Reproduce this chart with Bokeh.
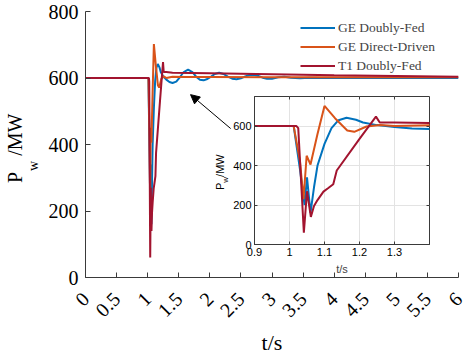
import math
from bokeh.plotting import figure
from bokeh.models import (Range1d, FixedTicker, Legend, LegendItem, Arrow,
                          NormalHead, LinearAxis, Div)
from bokeh.layouts import column
from bokeh.embed import file_html
from bokeh.resources import INLINE

# ---------------- data ----------------
series_names = ["GE Doubly-Fed", "GE Direct-Driven", "T1 Doubly-Fed"]

t_blue = [0, 1.012, 1.03, 1.043, 1.05, 1.06, 1.07, 1.08, 1.1, 1.12, 1.14, 1.163, 1.19,
          1.21, 1.25, 1.3, 1.35, 1.4, 1.46, 1.52, 1.58, 1.65, 1.72, 1.78, 1.84, 1.9,
          1.96, 2.02, 2.08, 2.15, 2.22, 2.29, 2.36, 2.43, 2.5, 2.57, 2.64, 2.71, 2.78,
          2.85, 2.92, 3.0, 3.1, 3.2, 3.3, 3.45, 3.6, 3.8, 4.0, 5.0, 6.0]
p_blue = [600, 600, 380, 200, 340, 160, 290, 400, 510, 590, 630, 642, 632,
          618, 605, 595, 588, 585, 589, 603, 618, 625, 618, 604, 595, 593,
          597, 604, 612, 616, 612, 604, 598, 596, 599, 605, 609, 610, 606,
          601, 598, 598, 602, 604, 601, 599, 601, 600, 600, 600, 600]

t_orange = [0, 1.012, 1.03, 1.04, 1.049, 1.06, 1.08, 1.1, 1.13, 1.165, 1.185, 1.22,
            1.26, 1.3, 1.4, 1.6, 2.0, 3.0, 6.0]
p_orange = [600, 600, 420, 230, 450, 405, 560, 702, 640, 578, 571, 598,
            605, 600, 604, 603, 603, 602, 602]

t_red = [0, 1.02, 1.025, 1.041, 1.05, 1.061, 1.07, 1.08, 1.097, 1.11, 1.125, 1.135,
         1.2, 1.247, 1.258, 1.3, 1.4, 2.0, 3.0, 4.0, 5.0, 6.0]
p_red = [600, 600, 590, 60, 270, 140, 195, 225, 268, 285, 305, 375,
         535, 648, 618, 618, 616, 614, 611, 608, 606, 604]

main_xticks = [0, 0.5, 1, 1.5, 2, 2.5, 3, 3.5, 4, 4.5, 5, 5.5, 6]
main_xlabels = ["0", "0.5", "1", "1.5", "2", "2.5", "3", "3.5", "4", "4.5", "5", "5.5", "6"]
main_yticks = [0, 200, 400, 600, 800]
inset_xticks = [0.9, 1.0, 1.1, 1.2, 1.3]
inset_xlabels = ["0.9", "1", "1.1", "1.2", "1.3"]
inset_yticks = [0, 200, 400, 600]

colors = ["#0072BD", "#D95319", "#A2142F"]
SERIF = "Liberation Serif"
TICKSERIF = "Times New Roman"
SANS = "Liberation Sans"
AXC = "#3a3a3a"


def key(v):
    return int(v) if float(v).is_integer() else v


# ---------------- main figure ----------------
p = figure(width=474, height=358, x_range=Range1d(0, 6), y_range=Range1d(0, 800),
           output_backend="svg", toolbar_location=None,
           min_border_left=85, min_border_right=16, min_border_top=11, min_border_bottom=72)
p.outline_line_color = None
p.grid.grid_line_color = None
p.background_fill_color = "white"

rs = []
for t, v, c in [(t_blue, p_blue, colors[0]), (t_orange, p_orange, colors[1]), (t_red, p_red, colors[2])]:
    rs.append(p.line(t, v, line_color=c, line_width=2))

xa = p.xaxis[0]
xa.ticker = FixedTicker(ticks=main_xticks)
xa.major_label_overrides = {key(v): s for v, s in zip(main_xticks, main_xlabels)}
xa.major_label_orientation = math.pi / 4
xa.axis_label = "t/s"
ya = p.yaxis[0]
ya.ticker = FixedTicker(ticks=main_yticks)
for ax in (xa, ya):
    ax.major_label_text_font = TICKSERIF
    ax.major_label_text_font_size = "20px"
    ax.major_label_text_font_style = "normal"
    ax.major_label_text_color = "black"
    ax.axis_label_text_font = SERIF
    ax.axis_label_text_font_size = "22px"
    ax.axis_label_text_font_style = "normal"
    ax.axis_label_text_color = "black"
    ax.major_tick_in = 5
    ax.major_tick_out = 0
    ax.minor_tick_line_color = None
    ax.axis_line_color = AXC
    ax.major_tick_line_color = AXC
xa.major_label_standoff = 18
xa.axis_label_standoff = 4
ya.major_label_standoff = 7

legend = Legend(items=[LegendItem(label=n, renderers=[r]) for n, r in zip(series_names, rs)],
                location=(215, 203))
legend.label_text_font = SERIF
legend.label_text_font_size = "13.5px"
legend.glyph_width = 35
legend.glyph_height = 17
legend.label_height = 17
legend.spacing = 2
legend.padding = 4
legend.margin = 0
legend.label_standoff = 3
legend.border_line_color = None
legend.background_fill_alpha = 0
p.add_layout(legend)

p.add_layout(Arrow(end=NormalHead(size=9, fill_color="black", line_color="black"),
                   x_start=2.335, y_start=448, x_end=1.69, y_end=550,
                   line_color="black", line_width=1))

# ---------------- inset figure ----------------
ins = figure(width=276, height=189, x_range=Range1d(0.9, 1.4), y_range=Range1d(0, 750),
             output_backend="svg", toolbar_location=None,
             min_border_left=85, min_border_right=16, min_border_top=5, min_border_bottom=36,
             styles={"position": "absolute", "left": "169px", "top": "91px"})
ins.border_fill_alpha = 0
ins.background_fill_color = "white"
ins.outline_line_color = AXC
ins.outline_line_width = 1
ins.xgrid.ticker = FixedTicker(ticks=inset_xticks)
ins.ygrid.ticker = FixedTicker(ticks=inset_yticks)
ins.grid.grid_line_color = "#e3e3e3"

for t, v, c in [(t_blue, p_blue, colors[0]), (t_orange, p_orange, colors[1]), (t_red, p_red, colors[2])]:
    ins.line(t, v, line_color=c, line_width=2)

ixa = ins.xaxis[0]
ixa.ticker = FixedTicker(ticks=inset_xticks)
ixa.major_label_overrides = {key(v): s for v, s in zip(inset_xticks, inset_xlabels)}
ixa.axis_label = "t/s"
iya = ins.yaxis[0]
iya.ticker = FixedTicker(ticks=inset_yticks)
for ax in (ixa, iya):
    ax.major_label_text_font = SANS
    ax.major_label_text_font_size = "11px"
    ax.major_label_text_color = "black"
    ax.axis_label_text_font = SANS
    ax.axis_label_text_font_size = "11px"
    ax.axis_label_text_font_style = "normal"
    ax.major_tick_in = 3
    ax.major_tick_out = 0
    ax.minor_tick_line_color = None
    ax.axis_line_color = AXC
    ax.major_tick_line_color = AXC
    ax.major_label_standoff = 3
ixa.axis_label_standoff = 4

ax_r = LinearAxis(ticker=FixedTicker(ticks=inset_yticks), major_label_text_color=None,
                  major_tick_in=3, major_tick_out=0, minor_tick_line_color=None,
                  axis_line_color=None, major_tick_line_color=AXC, major_label_standoff=0)
ins.add_layout(ax_r, "right")
ax_t = LinearAxis(ticker=FixedTicker(ticks=inset_xticks), major_label_text_color=None,
                  major_tick_in=3, major_tick_out=0, minor_tick_line_color=None,
                  axis_line_color=None, major_tick_line_color=AXC, major_label_standoff=0)
ins.add_layout(ax_t, "above")

# ---------------- y-axis titles with subscript (rotated HTML text) ----------------
main_ylabel = ('<div style="font-family:\'Liberation Serif\';font-size:20px;line-height:20px;'
               'white-space:nowrap;color:black">P<span style="font-size:14px;position:relative;'
               'top:16px;margin-left:1px">w</span> /MW</div>')
inset_ylabel = ('<div style="font-family:\'Liberation Sans\';font-size:11px;line-height:11px;'
                'white-space:nowrap;color:black">P<span style="font-size:8px;position:relative;'
                'top:4px">w</span>/MW</div>')

rot = {"position": "absolute", "transform": "rotate(-90deg)", "transform-origin": "0 0",
       "overflow": "visible", "margin": "0", "padding": "0"}
d_main = Div(text=main_ylabel, width=90, height=44,
             styles=dict(rot, left="5px", top="183px"))
d_ins = Div(text=inset_ylabel, width=50, height=20,
            styles=dict(rot, left="212px", top="190px"))

root = column(p, ins, d_main, d_ins, styles={"position": "relative"})
open("out.html", "w").write(file_html(root, INLINE))
